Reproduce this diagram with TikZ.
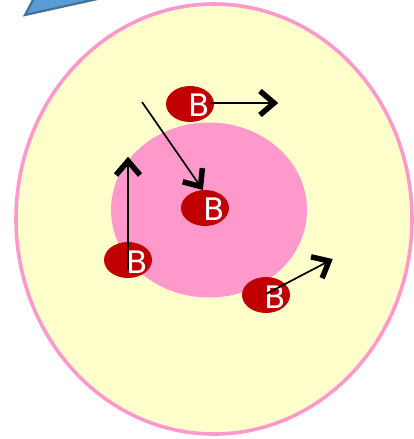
\documentclass[tikz,border=0pt]{standalone}
\usepackage{fontspec}
\setmainfont{DejaVu Sans}
\usetikzlibrary{shapes.geometric,calc}
\definecolor{cellfill}{HTML}{FFFFCC}
\definecolor{cellline}{HTML}{FF99CC}
\definecolor{nucfill}{HTML}{FF99CC}
\definecolor{bred}{HTML}{C00000}
\definecolor{bluefill}{HTML}{5B9BD5}
\definecolor{blueline}{HTML}{41719C}
\newcommand\moverarrow[2]{%
  \draw[shaft] (#1) -- (#2);
  \draw[chevron] ($(#2)!14pt!(#1)!12pt!90:(#2)$) -- (#2) -- ($(#2)!14pt!(#1)!12pt!-90:(#2)$);}
\begin{document}
\begin{tikzpicture}[x=1pt,y=-1pt,
  bcell/.style={ellipse, fill=bred, inner sep=0pt, minimum width=48pt, minimum height=36pt},
  btext/.style={text=white, inner sep=0pt, font=\fontsize{31}{36}\selectfont},
  shaft/.style={draw=black, line width=1.7pt},
  chevron/.style={draw=black, line width=5.5pt, line join=miter, line cap=butt}]
\useasboundingbox (0,0) rectangle (413,439);
% blue shape at top
\filldraw[fill=bluefill, draw=blueline, line width=2.2pt] (34,-2) -- (25,15) -- (102,-2) -- cycle;
% cell
\draw[draw=cellline, fill=cellfill, line width=3.6pt] (214,219) ellipse [x radius=198pt, y radius=215pt];
\node[ellipse, fill=nucfill, inner sep=0pt, minimum width=196pt, minimum height=175pt] (nuc) at (209,210) {};
% B cells
\node[bcell] (b1) at (190,104) {};
\node[bcell] (b2) at (205,208) {};
\node[bcell] (b3) at (128,260) {};
\node[bcell] (b4) at (266,295) {};
\node[btext] (t1) at (199,105) {B};
\node[btext] (t2) at (214,209) {B};
\node[btext] (t3) at (137,262) {B};
\node[btext] (t4) at (275,297) {B};
% arrow ends
\coordinate (s1) at (210,103);
\coordinate (e1) at (274,103);
\coordinate (s2) at (142,102);
\coordinate (e2) at (200.5,186.5);
\coordinate (s3) at (128,270);
\coordinate (e3) at (128,161);
\coordinate (s4) at (266,294);
\coordinate (e4) at (329,261);
\moverarrow{s1}{e1}
\moverarrow{s2}{e2}
\moverarrow{s3}{e3}
\moverarrow{s4}{e4}
\end{tikzpicture}
\end{document}
